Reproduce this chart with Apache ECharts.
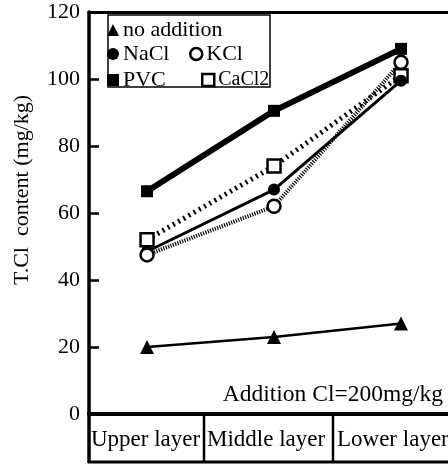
<!DOCTYPE html>
<html>
<head>
<meta charset="utf-8">
<script src="https://cdn.jsdelivr.net/npm/echarts@6/dist/echarts.min.js"></script>
<style>
html,body{margin:0;padding:0;background:#fff;}
#c{width:448px;height:464px;}
</style>
</head>
<body>
<div id="c"></div>
<script>
var categories = ['Upper layer', 'Middle layer', 'Lower layer'];
var yTicks = [0, 20, 40, 60, 80, 100, 120];
var noAddition = [20, 23, 27];
var nacl = [48.5, 67, 99.5];
var kcl = [47.5, 62, 105];
var pvc = [66.5, 90.5, 109];
var cacl2 = [52, 74, 101];
var yName = 'T.Cl  content (mg/kg)';
var note = 'Addition Cl=200mg/kg';

var FONT = 'Liberation Serif';
function pts(arr) { return arr.map(function (v, i) { return [i, v]; }); }

var chart = echarts.init(document.getElementById('c'));

var openStyle = { color: '#fff', borderColor: '#000', borderWidth: 2.5 };
var fillStyle = { color: '#000' };

function legendAt(name, icon, style, left, top, fs) {
  return {
    show: true, orient: 'horizontal', left: left, top: top, padding: 0,
    itemWidth: 12, itemHeight: 12, itemGap: 0,
    textStyle: { fontFamily: FONT, fontSize: fs || 22, color: '#000', lineHeight: 22, padding: [0, 0, 0, -1] },
    data: [{ name: name, icon: icon, itemStyle: style }],
    selectedMode: false
  };
}

var tableTexts = [91, 207, 337].map(function (x, i) {
  return { type: 'text', x: x, y: 440, z: 10,
    style: { text: categories[i], font: '23px "' + FONT + '"', fill: '#000', align: 'left', verticalAlign: 'middle' } };
});

chart.setOption({
  backgroundColor: '#fff',
  animation: false,
  grid: { left: 89, right: 0, top: 12, bottom: 50, containLabel: false },
  xAxis: [
    { type: 'value', min: -0.457, max: 2.37, position: 'bottom',
      axisLine: { show: true, onZero: false, lineStyle: { color: '#000', width: 4 } },
      axisTick: { show: false }, axisLabel: { show: false }, splitLine: { show: false } },
    { type: 'value', min: -0.457, max: 2.37, position: 'top',
      axisLine: { show: true, onZero: false, lineStyle: { color: '#000', width: 3 } },
      axisTick: { show: false }, axisLabel: { show: false }, splitLine: { show: false } }
  ],
  yAxis: {
    type: 'value', min: yTicks[0], max: yTicks[yTicks.length - 1], interval: 20, position: 'left',
    axisLine: { show: true, onZero: false, lineStyle: { color: '#000', width: 3.5 } },
    axisTick: { show: true, inside: true, length: 10, lineStyle: { color: '#000', width: 2.5 } },
    axisLabel: { fontFamily: FONT, fontSize: 22, color: '#000', margin: 9 },
    splitLine: { show: false }
  },
  legend: [
    legendAt('no addition', 'triangle', fillStyle, 107, 19),
    legendAt('NaCl', 'circle', fillStyle, 107, 43),
    legendAt('KCl', 'circle', { color: '#fff', borderColor: '#000', borderWidth: 2.5 }, 189, 43),
    legendAt('PVC', 'rect', fillStyle, 107, 69),
    legendAt('CaCl2', 'rect', { color: '#fff', borderColor: '#000', borderWidth: 2.5 }, 201, 69, 20)
  ],
  graphic: [
    { type: 'rect', z: 3, shape: { x: 108, y: 15, width: 162, height: 72 },
      style: { fill: '#fff', stroke: '#000', lineWidth: 1.5 } },
    { type: 'line', z: 10, shape: { x1: 89, y1: 412, x2: 89, y2: 463 }, style: { stroke: '#000', lineWidth: 3.5 } },
    { type: 'line', z: 10, shape: { x1: 88, y1: 462, x2: 448, y2: 462 }, style: { stroke: '#000', lineWidth: 3 } },
    { type: 'line', z: 10, shape: { x1: 204, y1: 414, x2: 204, y2: 462 }, style: { stroke: '#000', lineWidth: 2.5 } },
    { type: 'line', z: 10, shape: { x1: 333, y1: 414, x2: 333, y2: 462 }, style: { stroke: '#000', lineWidth: 2.5 } },
    { type: 'text', x: 443, y: 395, z: 10,
      style: { text: note, font: '23.5px "' + FONT + '"', fill: '#000', align: 'right', verticalAlign: 'middle' } },
    { type: 'text', x: 22, y: 190, rotation: Math.PI / 2, z: 10,
      style: { text: yName, font: '22px "' + FONT + '"', fill: '#000', align: 'center', verticalAlign: 'middle' } }
  ].concat(tableTexts),
  series: [
    { name: 'no addition', type: 'line', data: pts(noAddition), symbol: 'triangle', symbolSize: 14,
      itemStyle: fillStyle, lineStyle: { color: '#000', width: 2.5 }, z: 2 },
    { name: 'PVC', type: 'line', data: pts(pvc), symbol: 'rect', symbolSize: 12,
      itemStyle: fillStyle, lineStyle: { color: '#000', width: 6 }, z: 2 },
    { name: 'CaCl2', type: 'line', data: pts(cacl2), symbol: 'rect', symbolSize: 13,
      itemStyle: openStyle, lineStyle: { color: '#000', width: 5, type: [2, 4] }, z: 2 },
    { name: 'NaCl', type: 'line', data: pts(nacl), symbol: 'circle', symbolSize: 12,
      itemStyle: fillStyle, lineStyle: { color: '#000', width: 3 }, z: 2 },
    { name: 'KCl', type: 'line', data: pts(kcl), symbol: 'circle', symbolSize: 13,
      itemStyle: openStyle, lineStyle: { color: '#000', width: 4, type: [1.2, 1.3] }, z: 2 }
  ]
});
</script>
</body>
</html>
